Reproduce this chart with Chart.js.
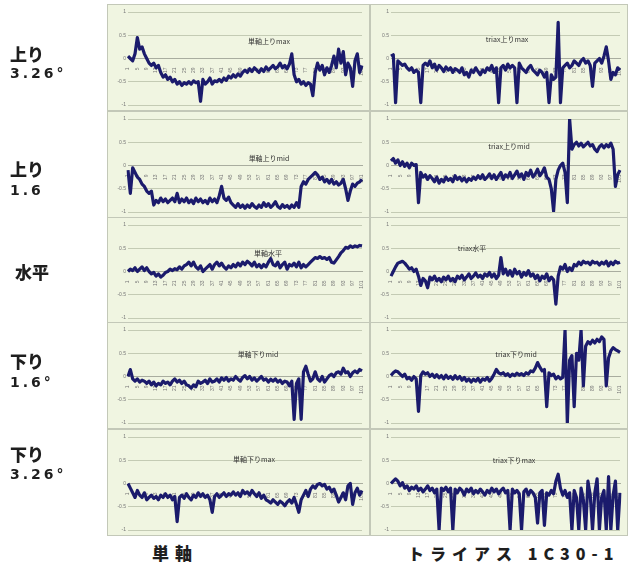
<!DOCTYPE html>
<html><head><meta charset="utf-8">
<script src="https://cdn.jsdelivr.net/npm/chart.js@4.4.0/dist/chart.umd.min.js"></script>
<style>
body{margin:0;width:630px;height:564px;background:#fff;position:relative;overflow:hidden;font-family:"Noto Sans CJK JP",sans-serif}
.panel{position:absolute;background:#f0f5e1;border:1px solid #c3c8b8;box-sizing:border-box;overflow:hidden}
.panel canvas{position:absolute;left:0;top:0}
.ttl{position:absolute;font-size:7px;color:#333;white-space:nowrap;transform:translate(-50%,-50%);line-height:1;font-family:"Noto Sans CJK JP",sans-serif}
.lab{position:absolute;font-weight:bold;color:#1e1e1e;line-height:1;white-space:nowrap}
.k{font-family:"Noto Sans CJK JP",sans-serif;font-size:17px;font-weight:900}
.n{font-family:"DejaVu Sans",sans-serif;font-size:14px;letter-spacing:3px}
</style></head><body>
<script>
// category labels (x axis)
const categories = [1,2,3,4,5,6,7,8,9,10,11,12,13,14,15,16,17,18,19,20,21,22,23,24,25,26,27,28,29,30,31,32,33,34,35,36,37,38,39,40,41,42,43,44,45,46,47,48,49,50,51,52,53,54,55,56,57,58,59,60,61,62,63,64,65,66,67,68,69,70,71,72,73,74,75,76,77,78,79,80,81,82,83,84,85,86,87,88,89,90,91,92,93,94,95,96,97,98,99,100,101];
const yTickLabels = {"-1":"-1","-0.5":"-0.5","0":"0","0.5":"0.5","1":"1"};
const panelTitles = ["単軸上りmax","triax上りmax","単軸上りmid","triax上りmid","単軸水平","triax水平","単軸下りmid","triax下りmid","単軸下りmax","triax下りmax"];
const rowLabels = [["上り","3.26°"],["上り","1.6"],["水平",""],["下り","1.6°"],["下り","3.26°"]];
const colLabels = ["単軸","トライアス 1C30-1"];

const tanUpMax = [0.05,0.0,-0.05,0.1,0.45,0.2,0.25,0.1,0.0,-0.1,-0.15,-0.1,-0.2,-0.15,-0.3,-0.4,-0.35,-0.45,-0.4,-0.5,-0.45,-0.55,-0.5,-0.58,-0.52,-0.55,-0.5,-0.55,-0.48,-0.52,-0.5,-0.92,-0.45,-0.55,-0.5,-0.42,-0.55,-0.48,-0.5,-0.45,-0.5,-0.42,-0.47,-0.38,-0.42,-0.35,-0.4,-0.33,-0.38,-0.3,-0.25,-0.3,-0.22,-0.28,-0.2,-0.25,-0.3,-0.22,-0.28,-0.18,-0.25,-0.2,-0.15,-0.22,-0.18,-0.1,-0.2,-0.15,-0.22,-0.12,0.1,-0.35,-0.5,-0.45,-0.55,-0.5,-0.58,-0.52,-0.55,-0.8,-0.3,-0.1,-0.25,-0.15,-0.35,-0.2,-0.3,-0.15,0.05,-0.2,0.2,-0.1,0.15,-0.35,-0.1,-0.2,-0.6,-0.05,0.1,-0.3,-0.15];
const triUpMax = [0.05,0.08,-0.95,-0.05,-0.1,-0.15,-0.12,-0.2,-0.25,-0.2,-0.3,-0.25,-0.3,-0.95,-0.15,-0.1,-0.15,-0.05,-0.2,-0.12,-0.25,-0.15,-0.2,-0.28,-0.18,-0.25,-0.2,-0.3,-0.22,-0.25,-0.3,-0.2,-0.35,-0.3,-0.4,-0.25,-0.3,-0.2,-0.28,-0.35,-0.25,-0.3,-0.2,-0.25,-0.15,-0.3,-0.2,-0.95,-0.2,-0.15,-0.25,-0.12,-0.2,-0.15,-0.2,-0.95,-0.1,-0.2,-0.25,-0.3,-0.2,-0.15,-0.25,-0.3,-0.35,-0.25,-0.3,-0.4,-0.3,-0.95,-0.35,-0.45,-0.4,0.78,-0.95,-0.2,-0.15,-0.1,-0.2,-0.15,-0.05,-0.1,-0.15,-0.05,0.0,-0.1,-0.05,-0.15,-0.6,-0.1,-0.05,0.0,-0.1,0.05,0.25,-0.05,-0.45,-0.3,-0.35,-0.2,-0.25];
const tanUpMid = [-0.1,-0.6,-0.05,-0.15,-0.25,-0.3,-0.4,-0.45,-0.55,-0.6,-0.55,-0.85,-0.75,-0.8,-0.7,-0.78,-0.72,-0.8,-0.75,-0.7,-0.78,-0.6,-0.8,-0.72,-0.78,-0.7,-0.8,-0.74,-0.82,-0.7,-0.78,-0.72,-0.8,-0.75,-0.82,-0.7,-0.78,-0.72,-0.8,-0.65,-0.45,-0.7,-0.75,-0.68,-0.8,-0.85,-0.9,-0.82,-0.9,-0.85,-0.92,-0.85,-0.9,-0.82,-0.88,-0.92,-0.85,-0.9,-0.8,-0.88,-0.82,-0.9,-0.85,-0.78,-0.88,-0.92,-0.84,-0.9,-0.86,-0.92,-0.85,-0.9,-0.8,-0.9,-0.45,-0.35,-0.4,-0.3,-0.25,-0.2,-0.15,-0.2,-0.3,-0.25,-0.35,-0.3,-0.38,-0.3,-0.4,-0.35,-0.42,-0.38,-0.3,-0.5,-0.75,-0.55,-0.4,-0.45,-0.38,-0.35,-0.3];
const triUpMid = [0.1,0.15,0.05,0.12,0.0,0.08,-0.02,0.05,-0.05,0.05,0.0,0.02,-0.8,-0.15,-0.25,-0.2,-0.3,-0.22,-0.28,-0.35,-0.25,-0.38,-0.3,-0.35,-0.25,-0.32,-0.28,-0.35,-0.22,-0.3,-0.25,-0.33,-0.27,-0.35,-0.28,-0.32,-0.25,-0.3,-0.22,-0.28,-0.2,-0.3,-0.25,-0.18,-0.28,-0.2,-0.3,-0.22,-0.15,-0.3,-0.2,-0.25,-0.15,-0.28,-0.2,-0.12,-0.25,-0.18,-0.3,-0.15,-0.22,-0.1,-0.25,-0.18,-0.08,-0.22,-0.15,-0.05,-0.25,-0.3,-0.5,-0.98,-0.3,-0.1,0.0,0.05,-0.15,-0.8,1.0,0.35,0.45,0.5,0.42,0.48,0.4,0.45,0.5,0.42,0.45,0.35,0.3,0.4,0.45,0.38,0.45,0.4,0.48,0.35,-0.45,-0.2,-0.1];
const tanFlat = [0.0,0.05,0.02,0.08,0.0,0.05,0.1,0.02,0.08,0.0,-0.05,-0.02,-0.1,-0.05,-0.12,-0.08,-0.02,0.0,0.05,0.02,0.06,0.04,0.1,0.05,0.12,0.15,0.2,0.12,0.2,0.1,0.05,0.12,0.0,0.05,0.1,0.15,0.05,0.15,0.2,0.12,0.18,0.1,0.05,0.12,0.08,0.15,0.1,0.18,0.12,0.2,0.15,0.22,0.18,0.12,0.2,0.1,0.15,0.08,0.15,0.1,0.2,0.28,0.15,0.12,0.2,0.08,0.15,0.2,0.05,0.15,0.12,0.18,0.1,0.2,0.08,0.15,0.1,0.15,0.2,0.25,0.3,0.28,0.32,0.28,0.3,0.26,0.3,0.2,0.18,0.25,0.32,0.4,0.45,0.52,0.5,0.55,0.52,0.55,0.53,0.56,0.55];
const triFlat = [-0.1,0.0,0.1,0.18,0.2,0.22,0.18,0.12,0.05,0.08,0.0,0.05,-0.1,-0.3,-0.15,-0.2,-0.35,-0.12,-0.18,-0.1,-0.2,-0.15,-0.22,-0.12,-0.18,-0.1,-0.2,-0.15,-0.22,-0.1,-0.15,-0.08,-0.18,-0.12,-0.05,-0.15,-0.1,-0.03,-0.12,-0.08,-0.15,-0.05,-0.1,-0.02,-0.12,-0.05,-0.15,-0.08,0.3,-0.05,0.05,-0.08,0.02,-0.1,0.05,-0.05,0.0,-0.12,-0.02,-0.08,0.02,-0.1,-0.05,-0.15,-0.08,-0.2,-0.1,-0.15,-0.05,-0.2,-0.12,-0.18,-0.7,-0.1,0.1,0.05,0.15,0.0,0.08,0.02,0.15,0.12,0.2,0.15,0.22,0.18,0.2,0.15,0.22,0.18,0.2,0.14,0.2,0.16,0.22,0.12,0.2,0.15,0.22,0.18,0.2];
const tanDownMid = [0.0,0.15,-0.05,-0.1,-0.05,-0.12,-0.08,-0.1,-0.15,-0.1,-0.18,-0.12,-0.2,-0.15,-0.18,-0.1,-0.15,-0.12,-0.18,-0.1,-0.05,-0.12,-0.08,-0.15,-0.1,-0.18,-0.2,-0.25,-0.18,-0.22,-0.1,-0.15,-0.12,-0.08,-0.15,-0.05,-0.12,-0.1,-0.05,-0.12,-0.03,-0.08,-0.02,-0.1,-0.05,-0.08,0.0,-0.06,-0.1,-0.02,0.02,-0.05,0.0,-0.08,-0.03,-0.1,-0.05,0.0,-0.08,-0.05,-0.12,-0.06,-0.1,-0.05,-0.12,-0.08,-0.15,-0.1,-0.12,-0.2,-0.1,-0.92,-0.15,-0.05,-0.92,0.1,0.22,0.05,-0.1,-0.05,0.1,-0.05,-0.1,0.0,-0.12,-0.05,0.02,0.05,0.0,0.08,0.1,0.05,0.18,0.08,0.1,0.0,0.08,0.12,0.08,0.15,0.12];
const triDownMid = [0.02,0.08,0.12,0.1,0.05,0.0,0.05,-0.05,-0.02,-0.08,0.0,-0.05,-0.75,0.02,0.1,0.05,0.08,0.0,0.05,-0.02,0.04,-0.03,0.02,-0.05,0.03,-0.04,0.0,-0.06,0.02,-0.05,0.0,-0.08,-0.02,-0.1,-0.05,-0.12,-0.06,-0.1,-0.04,-0.12,-0.05,-0.08,-0.02,-0.1,-0.04,0.05,0.15,0.08,0.05,0.08,0.02,0.06,0.0,0.05,0.02,0.07,0.03,0.06,0.02,0.08,0.05,0.12,0.1,0.18,0.3,0.2,0.12,0.15,-0.65,0.08,0.02,0.05,-0.05,0.0,-0.05,-0.02,1.0,-1.0,0.35,0.45,-0.65,0.5,0.35,1.0,-0.2,0.65,0.75,0.7,0.78,0.72,0.8,0.75,0.85,0.8,-0.2,0.4,0.55,0.62,0.58,0.55,0.52];
const tanDownMax = [0.0,-0.1,-0.2,-0.3,-0.15,-0.25,-0.3,-0.2,-0.35,-0.3,-0.25,-0.32,-0.28,-0.35,-0.25,-0.3,-0.22,-0.3,-0.25,-0.35,-0.28,-0.82,-0.3,-0.25,-0.32,-0.22,-0.3,-0.35,-0.25,-0.3,-0.2,-0.28,-0.22,-0.3,-0.25,-0.35,-0.62,-0.28,-0.22,-0.3,-0.25,-0.2,-0.28,-0.22,-0.25,-0.18,-0.25,-0.2,-0.28,-0.15,-0.22,-0.18,-0.25,-0.15,-0.22,-0.28,-0.2,-0.32,-0.25,-0.35,-0.38,-0.42,-0.35,-0.4,-0.45,-0.38,-0.42,-0.48,-0.4,-0.35,-0.42,-0.3,-0.45,-0.62,-0.35,-0.25,-0.15,-0.28,-0.12,-0.05,-0.1,-0.02,0.0,-0.05,-0.02,-0.12,-0.08,-0.18,-0.12,-0.25,-0.4,-0.3,-0.2,-0.35,-0.05,0.0,-0.45,-0.2,-0.1,-0.25,-0.15];
const triDownMax = [0.0,0.05,0.1,0.05,-0.05,0.02,-0.1,-0.05,-0.15,-0.08,-0.12,-0.05,-0.15,-0.1,-0.18,-0.12,-0.05,-0.15,-0.1,-0.2,-0.12,-1.0,-0.1,-0.15,-0.08,-0.18,-0.1,-1.0,-0.12,-0.2,-0.1,-0.15,-0.25,-0.12,-0.18,-0.1,-0.22,-0.15,-0.2,-0.12,-0.18,-0.25,-0.15,-0.2,-0.1,-0.18,-0.12,-0.22,-0.15,-0.1,-0.2,-0.15,-1.0,-0.12,-0.2,-0.15,-0.22,-1.0,-0.18,-0.12,-0.25,-0.15,-0.2,-0.3,-0.85,-0.2,-0.15,-0.9,-0.2,-0.25,-0.15,-0.22,0.05,0.2,-0.1,-0.25,-0.15,-0.3,-0.2,-1.0,-0.15,-0.3,-1.0,-0.1,-0.35,-1.0,0.05,-0.25,-1.0,-0.2,0.1,-1.0,-0.3,-0.15,-1.0,0.15,-1.0,-0.25,0.05,-1.0,-0.2];

const seriesList = [tanUpMax,triUpMax,tanUpMid,triUpMid,tanFlat,triFlat,tanDownMid,triDownMid,tanDownMax,triDownMax];

// layout
const cols = [{x:107,w:263},{x:370,w:258}];
const rowTops = [4,111,217,322,429];
const panelH = 107;
const titlePos = [[161,36],[136,34],[161,46],[138,34],[160,35],[101,30],[150,31],[145,31],[146,29],[143,30]];

seriesList.forEach((vals, i) => {
  const r = Math.floor(i/2), c = i%2;
  const p = document.createElement('div');
  p.className = 'panel';
  p.style.left = cols[c].x+'px'; p.style.top = rowTops[r]+'px';
  p.style.width = cols[c].w+'px'; p.style.height = panelH+'px';
  document.body.appendChild(p);
  const cv = document.createElement('canvas');
  cv.width = cols[c].w-2; cv.height = panelH-2;
  p.appendChild(cv);
  const t = document.createElement('div');
  t.className = 'ttl'; t.textContent = panelTitles[i];
  t.style.left = titlePos[i][0]+'px'; t.style.top = titlePos[i][1]+'px';
  p.appendChild(t);
  new Chart(cv, {
    type:'line',
    data:{labels:categories.slice(0, vals.length), datasets:[{data:vals, borderColor:'#1b1b6c', borderWidth:3.2, pointRadius:0, tension:0, borderJoinStyle:'round'}]},
    options:{
      responsive:false, animation:false, events:[],
      layout:{padding:{top:7, bottom:5, right:c===0?5:1, left:0}},
      plugins:{legend:{display:false}, tooltip:{enabled:false}, title:{display:false}},
      scales:{
        y:{min:-1, max:1,
           ticks:{stepSize:0.5, font:{size:5}, color:'#777', padding:2, callback:v=>yTickLabels[String(v)] ?? ''},
           grid:{color:'#c4cbb4', lineWidth:1, drawTicks:false},
           border:{display:false},
           afterFit(s){ s.width = 20; }},
        x:{position:{y:0},
           grid:{display:false},
           border:{display:true, color:'#a9ad9f'},
           ticks:{font:{size:5}, color:'#777', minRotation:90, maxRotation:90, autoSkip:true, maxTicksLimit:34, padding:1}}
      }
    },
    plugins:[{id:'bg', beforeDraw(ch){const g=ch.ctx; g.save(); g.fillStyle='#f0f5e1'; g.fillRect(0,0,ch.width,ch.height); g.restore();}}]
  });
});

// row labels
const rowLabelPos = [[10,45,66],[10,160,183],[15,263,0],[10,352,375],[10,445,467]];
rowLabels.forEach((rl, r) => {
  const a = document.createElement('div');
  a.className = 'lab k'; a.textContent = rl[0];
  a.style.left = rowLabelPos[r][0]+'px'; a.style.top = rowLabelPos[r][1]+'px';
  document.body.appendChild(a);
  if (rl[1]) {
    const b = document.createElement('div');
    b.className = 'lab n'; b.textContent = rl[1];
    b.style.left = '10px'; b.style.top = rowLabelPos[r][2]+'px';
    document.body.appendChild(b);
  }
});
const colLabelPos = [[152,544,6],[408,545,6]];
colLabels.forEach((cl, i) => {
  const d = document.createElement('div');
  d.className = 'lab';
  d.style.fontFamily = '"Noto Sans CJK JP",sans-serif';
  d.style.fontWeight = '900';
  d.style.fontSize = i===0 ? '17px' : '16px';
  d.style.letterSpacing = colLabelPos[i][2]+'px';
  d.textContent = cl;
  d.style.left = colLabelPos[i][0]+'px'; d.style.top = colLabelPos[i][1]+'px';
  document.body.appendChild(d);
});
</script>
</body></html>
